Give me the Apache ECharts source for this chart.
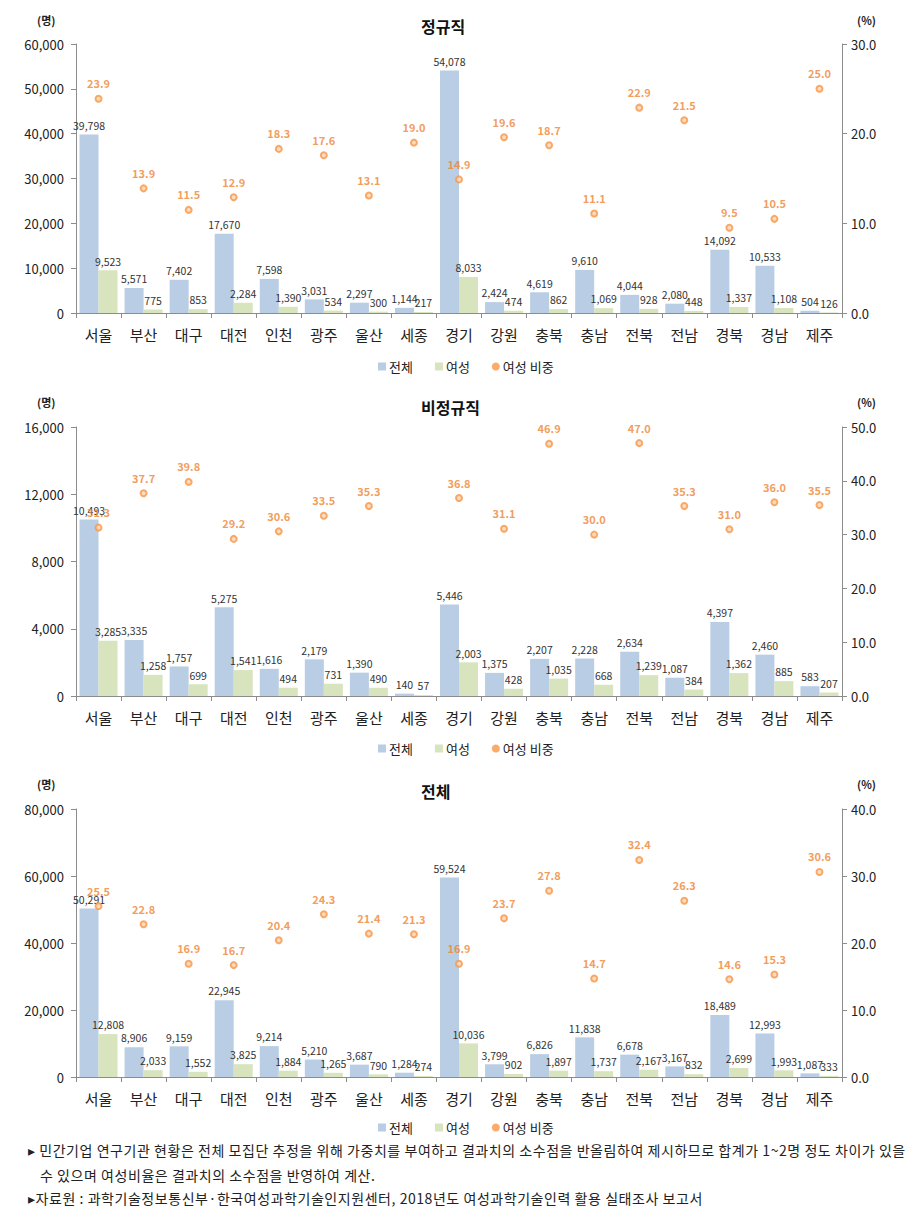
<!DOCTYPE html>
<html>
<head>
<meta charset="utf-8">
<script src="https://cdn.jsdelivr.net/npm/echarts@6/dist/echarts.min.js"></script>
<style>
  html, body { margin: 0; padding: 0; background: #fff; }
  #chart { position: absolute; left: 0; top: 0; width: 923px; height: 1229px; }
  .note { position: absolute; font-family: "Noto Sans CJK KR", sans-serif; font-size: 14px; color: #222; white-space: nowrap; letter-spacing: 0.55px; }
</style>
</head>
<body>
<div id="chart"></div>
<div class="note" style="left:28px; top:1140px;">▸ 민간기업 연구기관 현황은 전체 모집단 추정을 위해 가중치를 부여하고 결과치의 소수점을 반올림하여 제시하므로 합계가 1~2명 정도 차이가 있을</div>
<div class="note" style="left:40px; top:1165px;">수 있으며 여성비율은 결과치의 소수점을 반영하여 계산.</div>
<div class="note" style="left:28px; top:1188px;">▸자료원 : 과학기술정보통신부·한국여성과학기술인지원센터, 2018년도 여성과학기술인력 활용 실태조사 보고서</div>
<script>
// ---- data ----
const categories = ['서울','부산','대구','대전','인천','광주','울산','세종','경기','강원','충북','충남','전북','전남','경북','경남','제주'];
const seriesNames = ['전체', '여성', '여성 비중'];
const panelTitles = ['정규직', '비정규직', '전체'];

const regTotal  = [39798, 5571, 7402, 17670, 7598, 3031, 2297, 1144, 54078, 2424, 4619, 9610, 4044, 2080, 14092, 10533, 504];
const regFemale = [9523, 775, 853, 2284, 1390, 534, 300, 217, 8033, 474, 862, 1069, 928, 448, 1337, 1108, 126];
const regRatio  = [23.9, 13.9, 11.5, 12.9, 18.3, 17.6, 13.1, 19.0, 14.9, 19.6, 18.7, 11.1, 22.9, 21.5, 9.5, 10.5, 25.0];

const nonTotal  = [10493, 3335, 1757, 5275, 1616, 2179, 1390, 140, 5446, 1375, 2207, 2228, 2634, 1087, 4397, 2460, 583];
const nonFemale = [3285, 1258, 699, 1541, 494, 731, 490, 57, 2003, 428, 1035, 668, 1239, 384, 1362, 885, 207];
const nonRatio  = [31.3, 37.7, 39.8, 29.2, 30.6, 33.5, 35.3, null, 36.8, 31.1, 46.9, 30.0, 47.0, 35.3, 31.0, 36.0, 35.5];

const allTotal  = [50291, 8906, 9159, 22945, 9214, 5210, 3687, 1284, 59524, 3799, 6826, 11838, 6678, 3167, 18489, 12993, 1087];
const allFemale = [12808, 2033, 1552, 3825, 1884, 1265, 790, 274, 10036, 902, 1897, 1737, 2167, 832, 2699, 1993, 333];
const allRatio  = [25.5, 22.8, 16.9, 16.7, 20.4, 24.3, 21.4, 21.3, 16.9, 23.7, 27.8, 14.7, 32.4, 26.3, 14.6, 15.3, 30.6];

// axis scales (tick labels)
const leftMax = [60000, 16000, 80000];
const leftInterval = [10000, 4000, 20000];
const rightMax = [30, 50, 40];
const rightInterval = [10, 10, 10];

// ---- layout / style ----
const FONT = '"Noto Sans CJK KR", "Noto Sans", sans-serif';
const panels = [
  { top: 44, height: 269, titleY: 28, unitY: 22, legendTop: 355, total: regTotal, female: regFemale, ratio: regRatio },
  { top: 427, height: 269, titleY: 409, unitY: 404, legendTop: 737, total: nonTotal, female: nonFemale, ratio: nonRatio },
  { top: 809, height: 268, titleY: 793, unitY: 786, legendTop: 1116, total: allTotal, female: allFemale, ratio: allRatio }
];
const BLUE = '#B9CDE5', GREEN = '#D7E4BD', ORANGE = '#F79646', ORANGE_TXT = '#EE8431';
const axisGray = '#8C8C8C';
const fmtN = v => Number(v).toLocaleString('en-US');

const option = { animation: false, grid: [], xAxis: [], yAxis: [], series: [], legend: [], graphic: [] };

panels.forEach((p, i) => {
  option.grid.push({ left: 76, right: 81, top: p.top, height: p.height, containLabel: false });
  option.xAxis.push({
    type: 'category', gridIndex: i, data: categories,
    axisLine: { lineStyle: { color: axisGray, width: 1 } },
    axisTick: { show: true, length: 5, lineStyle: { color: axisGray } },
    axisLabel: { fontFamily: FONT, fontSize: 15, color: '#222', margin: 14, interval: 0 }
  });
  option.yAxis.push({
    type: 'value', gridIndex: i, min: 0, max: leftMax[i], interval: leftInterval[i], position: 'left',
    axisLine: { show: true, lineStyle: { color: axisGray } },
    axisTick: { show: true, length: 5, lineStyle: { color: axisGray } },
    splitLine: { show: false },
    axisLabel: { fontFamily: FONT, fontSize: 13, color: '#222', margin: 12, formatter: v => fmtN(v) }
  });
  option.yAxis.push({
    type: 'value', gridIndex: i, min: 0, max: rightMax[i], interval: rightInterval[i], position: 'right',
    axisLine: { show: true, lineStyle: { color: axisGray } },
    axisTick: { show: true, length: 5, lineStyle: { color: axisGray } },
    splitLine: { show: false },
    axisLabel: { fontFamily: FONT, fontSize: 13, color: '#222', margin: 9, formatter: v => v.toFixed(1) }
  });
  const barLabel = {
    show: true, position: 'top', distance: 4, fontFamily: FONT, fontSize: 10.5, color: '#333',
    formatter: pr => fmtN(pr.value)
  };
  option.series.push({
    name: seriesNames[0], type: 'bar', xAxisIndex: i, yAxisIndex: i * 2, data: p.total,
    barWidth: 19, barGap: '0%', itemStyle: { color: BLUE }, label: barLabel
  });
  option.series.push({
    name: seriesNames[1], type: 'bar', xAxisIndex: i, yAxisIndex: i * 2, data: p.female,
    barWidth: 19, barGap: '0%', itemStyle: { color: GREEN }, label: barLabel
  });
  option.series.push({
    name: seriesNames[2], type: 'scatter', xAxisIndex: i, yAxisIndex: i * 2 + 1, data: p.ratio,
    symbol: 'circle', symbolSize: 6, z: 5,
    itemStyle: { color: '#FBD3B0', borderColor: ORANGE, borderWidth: 2 },
    label: { show: true, position: 'top', distance: 6, fontFamily: FONT, fontSize: 11, fontWeight: 'bold', color: ORANGE_TXT,
      formatter: pr => Number(pr.value[1] !== undefined ? pr.value[1] : pr.value).toFixed(1) }
  });
  option.legend.push({
    top: p.legendTop, left: 373, itemGap: 22, itemWidth: 8, itemHeight: 8,
    textStyle: { fontFamily: FONT, fontSize: 13, color: '#222', padding: [0, 0, 0, -2] },
    data: [
      { name: seriesNames[0], icon: 'rect' },
      { name: seriesNames[1], icon: 'rect' },
      { name: seriesNames[2], icon: 'circle', itemStyle: { color: ORANGE, borderWidth: 0 } }
    ]
  });
  option.graphic.push(
    { type: 'text', left: 451 - 30, top: p.titleY - 10, style: { text: panelTitles[i], x: 0, y: 0, fontFamily: FONT, fontSize: 16, fontWeight: 'bold', fill: '#111', width: 60, align: 'center' } },
    { type: 'text', left: 37, top: p.unitY - 8, style: { text: '(명)', fontFamily: FONT, fontSize: 11, fontWeight: 'bold', fill: '#222' } },
    { type: 'text', left: 857, top: p.unitY - 8, style: { text: '(%)', fontFamily: FONT, fontSize: 11, fontWeight: 'bold', fill: '#222' } }
  );
});

const chart = echarts.init(document.getElementById('chart'), null, { renderer: 'svg', width: 923, height: 1229 });
chart.setOption(option);
</script>
</body>
</html>
